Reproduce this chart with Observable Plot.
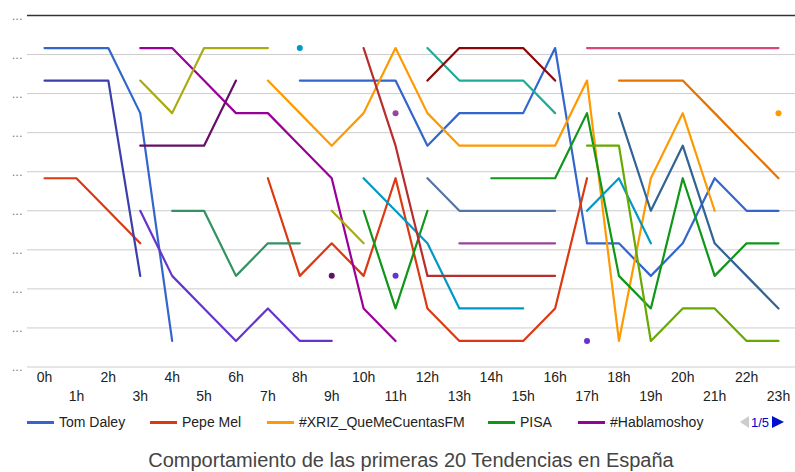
<!DOCTYPE html>
<html><head><meta charset="utf-8">
<script src="https://cdn.jsdelivr.net/npm/d3@7"></script>
<script src="https://cdn.jsdelivr.net/npm/@observablehq/plot@0.6"></script>
<style>
body{margin:0;background:#fff;font-family:Arial,"Liberation Sans",sans-serif;}
#wrap{position:relative;width:795px;height:472px;overflow:hidden;background:#fff;}
#chart{position:absolute;left:0;top:0;}
.leg{position:absolute;top:412px;height:20px;display:flex;align-items:center;font-size:14px;color:#222;white-space:nowrap;}
.leg .sw{width:27px;height:3px;margin-right:5px;}
#pager{position:absolute;top:412px;left:740px;height:20px;display:flex;align-items:center;font-size:13px;color:#0000cc;}
.tl{width:0;height:0;border-top:6px solid transparent;border-bottom:6px solid transparent;border-right:9px solid #ccc;margin-right:2px;}
.tr{width:0;height:0;border-top:6px solid transparent;border-bottom:6px solid transparent;border-left:12px solid #0011cc;margin-left:3px;}
#title{position:absolute;top:448px;left:27px;width:768px;text-align:center;font-size:20px;line-height:24px;color:#444;}
</style></head>
<body>
<div id="wrap">
  <div id="chart"></div>
  <div id="legend"></div>
  <div id="pager"><div class="tl"></div><span>1/5</span><div class="tr"></div></div>
  <div id="title">Comportamiento de las primeras 20 Tendencias en España</div>
</div>
<script>
const hours = d3.range(24);
const hourLabels = ["0h","1h","2h","3h","4h","5h","6h","7h","8h","9h","10h","11h","12h","13h","14h","15h","16h","17h","18h","19h","20h","21h","22h","23h"];
const yTicks = [0, 1.2, 2.4, 3.6, 4.8, 6, 7.2, 8.4, 9.6, 10.8];
const _ = null;

// ranks per hour (index = hour), null = not in ranking
const tomDaley    = [1,1,1,3,10,_,_,_,2,2,2,2,4,3,3,3,1,7,7,8,7,5,6,6];
const pepeMel     = [5,5,6,7,_,_,_,5,8,7,8,5,9,10,10,10,9,5,_,_,_,_,_,_];
const xriz        = [_,_,_,_,_,_,_,2,3,4,3,1,3,4,4,4,4,2,10,5,3,6,_,3];
const pisa        = [_,_,_,_,_,_,_,_,_,_,6,9,6,_,5,5,5,3,8,9,5,8,7,7];
const hablamoshoy = [_,_,_,1,1,2,3,3,4,5,9,10,_,_,_,_,_,_,_,_,_,_,_,_];
const trend6      = [_,_,_,_,_,_,_,_,1,_,5,6,7,9,9,9,_,6,5,7,_,_,_,_];
const trend7      = [_,_,_,_,_,_,_,_,_,_,_,_,_,_,_,_,_,1,1,1,1,1,1,1];
const trend8      = [_,_,_,_,_,_,_,_,_,_,_,_,_,_,_,_,_,4,4,10,9,9,10,10];
const trend9      = [_,_,_,_,_,_,_,_,_,_,1,4,8,8,8,8,8,_,_,_,_,_,_,_];
const trend10     = [_,_,_,_,_,_,_,_,_,_,_,_,_,_,_,_,_,_,3,6,4,7,8,9];
const trend11     = [_,_,_,_,_,_,_,_,_,_,_,3,_,7,7,7,7,_,_,_,_,_,_,_];
const trend12     = [_,_,_,_,_,_,_,_,_,_,_,_,1,2,2,2,3,_,_,_,_,_,_,_];
const trend13     = [_,_,_,2,3,1,1,1,_,6,7,_,_,_,_,_,_,_,_,_,_,_,_,_];
const trend14     = [_,_,_,6,8,9,10,9,10,10,_,8,_,_,_,_,_,10,_,_,_,_,_,_];
const trend15     = [_,_,_,_,_,_,_,_,_,_,_,_,_,_,_,_,_,_,2,2,2,3,4,5];
const trend16     = [_,_,_,_,_,_,_,_,_,_,_,_,2,1,1,1,2,_,_,_,_,_,_,_];
const trend17     = [_,_,_,4,4,4,2,_,_,8,_,_,_,_,_,_,_,_,_,_,_,_,_,_];
const trend18     = [_,_,_,_,6,6,8,7,7,_,_,_,_,_,_,_,_,_,_,_,_,_,_,_];
const trend19     = [_,_,_,_,_,_,_,_,_,_,_,_,5,6,6,6,6,_,_,_,_,_,_,_];
const trend20     = [2,2,2,8,_,_,_,_,_,_,_,_,_,_,_,_,_,_,_,_,_,_,_,_];

const seriesNames = ["Tom Daley","Pepe Mel","#XRIZ_QueMeCuentasFM","PISA","#Hablamoshoy",
  "Tendencia 6","Tendencia 7","Tendencia 8","Tendencia 9","Tendencia 10",
  "Tendencia 11","Tendencia 12","Tendencia 13","Tendencia 14","Tendencia 15",
  "Tendencia 16","Tendencia 17","Tendencia 18","Tendencia 19","Tendencia 20"];
const seriesValues = [tomDaley,pepeMel,xriz,pisa,hablamoshoy,trend6,trend7,trend8,trend9,trend10,
  trend11,trend12,trend13,trend14,trend15,trend16,trend17,trend18,trend19,trend20];
const seriesColors = ["#3366cc","#dc3912","#ff9900","#109618","#990099","#0099c6","#dd4477","#66aa00",
  "#b82e2e","#316395","#994499","#22aa99","#aaaa11","#6633cc","#e67300","#8b0707","#651067",
  "#329262","#5574a6","#3b3eac"];

const rows = [];
const singles = [];
seriesNames.forEach((name, s) => {
  const v = seriesValues[s];
  hours.forEach(h => {
    rows.push({series: name, hour: h, rank: v[h]});
    if (v[h] != null && (h === 0 || v[h-1] == null) && (h === 23 || v[h+1] == null))
      singles.push({series: name, hour: h, rank: v[h]});
  });
});

const evenHours = hours.filter(h => h % 2 === 0);
const oddHours = hours.filter(h => h % 2 === 1);

const chart = Plot.plot({
  width: 795, height: 410,
  marginLeft: 27, marginRight: 0, marginTop: 15, marginBottom: 43.5,
  x: {domain: [-0.533, 23.533], axis: null},
  y: {domain: [0, 10.8], reverse: true, axis: null},
  color: {domain: seriesNames, range: seriesColors},
  style: {fontFamily: "Arial, 'Liberation Sans', sans-serif", background: "white", overflow: "visible"},
  marks: [
    Plot.ruleY(yTicks.slice(1), {stroke: "#cccccc", strokeWidth: 1}),
    Plot.ruleY([0], {stroke: "#333333", strokeWidth: 1.5}),
    Plot.text(yTicks, {y: d => d, text: () => "...", frameAnchor: "left", dx: -5, textAnchor: "end", fontSize: 13, fill: "#7080b0"}),
    Plot.text(evenHours, {x: d => d, text: d => hourLabels[d], frameAnchor: "bottom", dy: 15, fontSize: 14, fill: "#222"}),
    Plot.text(oddHours, {x: d => d, text: d => hourLabels[d], frameAnchor: "bottom", dy: 33.5, fontSize: 14, fill: "#222"}),
    Plot.line(rows, {x: "hour", y: "rank", z: "series", stroke: "series", strokeWidth: 2.2}),
    Plot.dot(singles, {x: "hour", y: "rank", fill: "series", r: 3})
  ]
});
document.getElementById("chart").appendChild(chart);

// legend (page 1 of 5)
const legendLeft = [27, 150, 267, 488, 578];
const legend = document.getElementById("legend");
seriesNames.slice(0, 5).forEach((name, i) => {
  const d = document.createElement("div");
  d.className = "leg";
  d.style.left = legendLeft[i] + "px";
  const sw = document.createElement("div");
  sw.className = "sw";
  sw.style.background = seriesColors[i];
  const t = document.createElement("span");
  t.textContent = name;
  d.appendChild(sw); d.appendChild(t);
  legend.appendChild(d);
});
</script>
</body></html>
